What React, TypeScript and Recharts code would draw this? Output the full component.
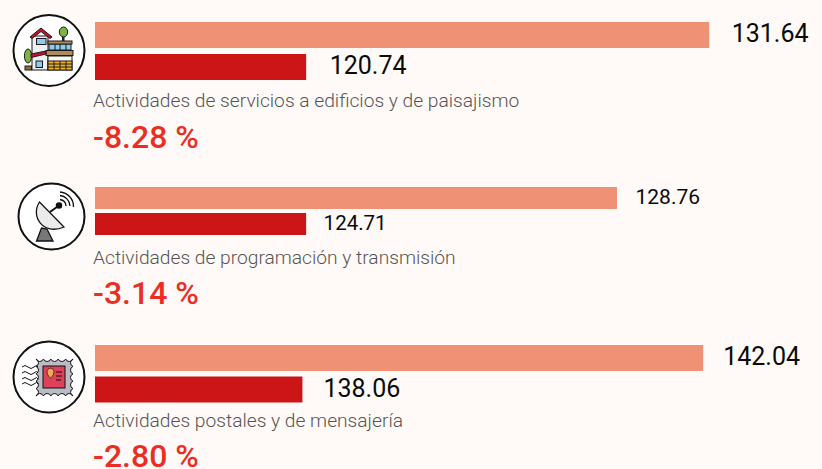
import { BarChart, Bar, XAxis, YAxis, Cell, LabelList } from "recharts";

const CATEGORIES = ["anterior", "actual"];

const EDIFICIOS_VALUES = [131.64, 120.74];
const PROGRAMACION_VALUES = [128.76, 124.71];
const POSTALES_VALUES = [142.04, 138.06];

const EDIFICIOS_DOMAIN = [115.03, 134.69];
const PROGRAMACION_DOMAIN = [121.96, 131.43];
const POSTALES_DOMAIN = [136.0, 143.22];

const BAR_COLORS = ["#EF9175", "#CB1517"];
const BACKGROUND = "#FFFAF7";

const toRows = (values: number[]) =>
  CATEGORIES.map((category, i) => ({ category, value: values[i] }));

type GroupProps = {
  values: number[];
  domain: number[];
  top: number;
  height: number;
  barSize: number;
  gaps: number[];
  fontSizes: number[];
  caption: string;
  captionTop: number;
  change: string;
  changeTop: number;
};

function Group(props: GroupProps) {
  const { values, domain, top, height, barSize, gaps, fontSizes } = props;

  const renderLabel = (p: any) => {
    const { x, y, width, height: h, value, index } = p;
    return (
      <text
        x={x + width + gaps[index]}
        y={y + h / 2 - 1.5}
        dominantBaseline="central"
        fontFamily="Roboto"
        fontSize={fontSizes[index]}
        fill="#0a0a0a"
      >
        {Number(value).toFixed(2)}
      </text>
    );
  };

  return (
    <>
      <div style={{ position: "absolute", left: 0, top }}>
        <BarChart
          width={822}
          height={height}
          layout="vertical"
          data={toRows(values)}
          margin={{ top: 0, right: 0, bottom: 0, left: 95 }}
        >
          <XAxis type="number" hide domain={domain} allowDataOverflow />
          <YAxis type="category" dataKey="category" hide />
          <Bar dataKey="value" barSize={barSize} isAnimationActive={false}>
            {CATEGORIES.map((c, i) => (
              <Cell key={c} fill={BAR_COLORS[i]} />
            ))}
            <LabelList dataKey="value" content={renderLabel} />
          </Bar>
        </BarChart>
      </div>
      <div
        style={{
          position: "absolute",
          left: 93,
          top: props.captionTop,
          fontFamily: "Roboto",
          fontWeight: 300,
          fontSize: 19.2,
          lineHeight: "20px",
          color: "#555555",
          whiteSpace: "nowrap",
        }}
      >
        {props.caption}
      </div>
      <div
        style={{
          position: "absolute",
          left: 93,
          top: props.changeTop,
          fontFamily: "Roboto",
          fontWeight: 500,
          fontSize: 32,
          lineHeight: "26px",
          color: "#EC2D23",
          whiteSpace: "nowrap",
        }}
      >
        {props.change}
      </div>
    </>
  );
}

function stampPath(x0: number, y0: number, x1: number, y1: number, n: number) {
  const sx = (x1 - x0) / n;
  const sy = (y1 - y0) / n;
  const r = sx / 2 + 0.3;
  let d = `M${x0} ${y0}`;
  for (let i = 1; i <= n; i++) d += `A${r} ${r} 0 0 0 ${x0 + sx * i} ${y0}`;
  for (let i = 1; i <= n; i++) d += `A${r} ${r} 0 0 0 ${x1} ${y0 + sy * i}`;
  for (let i = 1; i <= n; i++) d += `A${r} ${r} 0 0 0 ${x1 - sx * i} ${y1}`;
  for (let i = 1; i <= n; i++) d += `A${r} ${r} 0 0 0 ${x0} ${y1 - sy * i}`;
  return d + "Z";
}

function Icons() {
  const ink = "#1a1a1a";
  return (
    <svg width={92} height={469} style={{ position: "absolute", left: 0, top: 0 }}>
      {/* casa */}
      <circle cx={49} cy={50.5} r={35.5} fill="#fff" stroke="#111" strokeWidth={2} />
      <g stroke={ink} strokeWidth={1}>
        <rect x={62.5} y={34} width={1.5} height={8} fill="#333" />
        <ellipse cx={63.5} cy={32} rx={4.2} ry={5} fill="#7cb342" />
        <ellipse cx={28} cy={56} rx={3.6} ry={7} fill="#7cb342" />
        <rect x={25} y={66} width={6.5} height={4} fill="#8a6d3b" />
        <rect x={32} y={36} width={16} height={34} fill="#EEF0F4" />
        <polygon points="30,37 41,28 52,37 50,38.5 41,31.5 32,38.5" fill="#C8102E" />
        <rect x={36.5} y={38.5} width={9.5} height={6} fill="#8FCBEA" />
        <rect x={49} y={44} width={22} height={6} fill="#8FCBEA" />
        <line x1={55} y1={44} x2={55} y2={50} />
        <line x1={60} y1={44} x2={60} y2={50} />
        <line x1={66} y1={44} x2={66} y2={50} />
        <rect x={48} y={41} width={24} height={3} fill="#B08A5B" />
        <rect x={46} y={50.5} width={27} height={5} fill="#B08A5B" />
        <rect x={48} y={56} width={24} height={14} fill="#F6F6F2" />
        <rect x={48} y={61} width={24} height={9} fill="#F5B324" />
        <line x1={48} y1={64} x2={72} y2={64} />
        <line x1={48} y1={67} x2={72} y2={67} />
        <line x1={54} y1={61} x2={54} y2={70} />
        <line x1={60} y1={61} x2={60} y2={70} />
        <line x1={66} y1={61} x2={66} y2={70} />
        <polygon points="31,54 46,51 46,54 31,57.5" fill="#C8102E" />
        <rect x={36} y={61} width={6.5} height={6.5} fill="#8FCBEA" />
      </g>

      {/* antena */}
      <circle cx={51.5} cy={216.5} r={33} fill="#fff" stroke="#111" strokeWidth={2} />
      <g stroke="#111" strokeWidth={1.3} fill="none">
        <polygon points="41.5,228 36.5,241 53,241 47,229" fill="#777" />
        <path d="M39.5 202 C30 216 43 236 64 227 Z" fill="#EBEBEB" />
        <line x1={50} y1={212} x2={59} y2={205.5} strokeWidth={2} />
        <circle cx={59} cy={205.5} r={2.6} fill="#111" />
        <path d="M60 199.5 A7 7 0 0 1 66 206" />
        <path d="M60 195.5 A11 11 0 0 1 70 206" />
        <path d="M60 192 A14.5 14.5 0 0 1 73.5 207" />
      </g>

      {/* sello */}
      <circle cx={49} cy={377} r={35.5} fill="#fff" stroke="#111" strokeWidth={2} />
      <g stroke="#111" strokeWidth={1}>
        <path d={stampPath(36, 359, 73, 396, 5)} fill="#B9BCC4" />
        <rect x={43} y={366} width={22} height={22} fill="#E0405A" />
        <path d="M47 372 C47 367 54 367 54 372 C54 375 51 378 50.5 378 C50 378 47 375 47 372 Z" fill="#F2A65A" strokeWidth={0.7} />
        <line x1={56} y1={372} x2={62} y2={372} />
        <line x1={56} y1={376} x2={62} y2={376} />
        <line x1={56} y1={380} x2={61} y2={380} />
      </g>
      <g stroke="#111" strokeWidth={1} fill="none">
        <path d="M22 367 q3 -3 6 0 t6 0 t4 0" />
        <path d="M22 373 q3 -3 6 0 t6 0 t4 0" />
        <path d="M22 379 q3 -3 6 0 t6 0 t4 0" />
        <path d="M22 384 q3 -3 6 0 t6 0 t4 0" />
      </g>
    </svg>
  );
}

export default function App() {
  return (
    <div
      style={{
        position: "absolute",
        left: 0,
        top: 0,
        width: 822,
        height: 469,
        overflow: "hidden",
        background: BACKGROUND,
      }}
    >
      <Icons />
      <Group
        values={EDIFICIOS_VALUES}
        domain={EDIFICIOS_DOMAIN}
        top={19}
        height={64}
        barSize={26}
        gaps={[22.5, 23.5]}
        fontSizes={[25, 25]}
        caption="Actividades de servicios a edificios y de paisajismo"
        captionTop={91}
        change="-8.28 %"
        changeTop={124}
      />
      <Group
        values={PROGRAMACION_VALUES}
        domain={PROGRAMACION_DOMAIN}
        top={185}
        height={52}
        barSize={22}
        gaps={[18.5, 17.5]}
        fontSizes={[21, 20.5]}
        caption="Actividades de programación y transmisión"
        captionTop={248}
        change="-3.14 %"
        changeTop={280}
      />
      <Group
        values={POSTALES_VALUES}
        domain={POSTALES_DOMAIN}
        top={342}
        height={63}
        barSize={26}
        gaps={[20, 21]}
        fontSizes={[25, 25]}
        caption="Actividades postales y de mensajería"
        captionTop={411}
        change="-2.80 %"
        changeTop={443}
      />
    </div>
  );
}
